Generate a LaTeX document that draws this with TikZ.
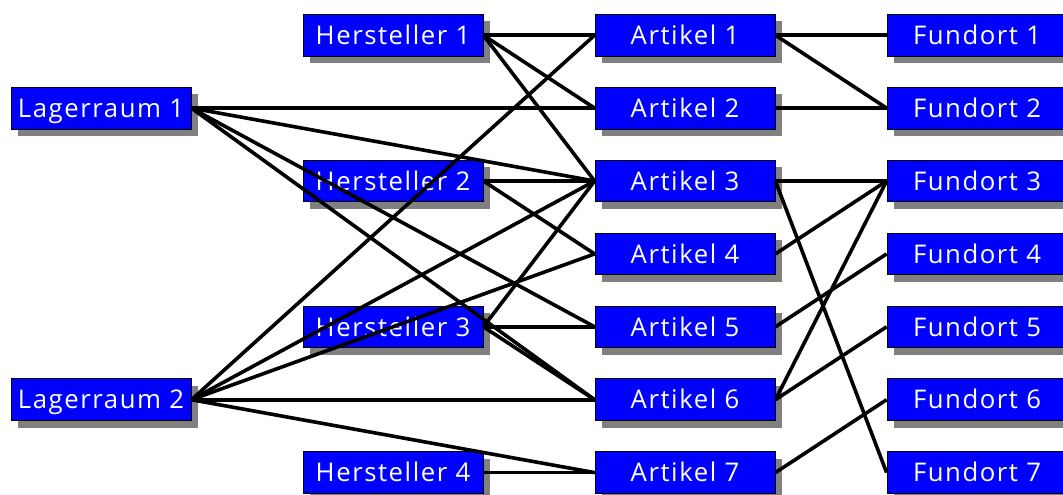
\documentclass[tikz,border=0pt]{standalone}
\usepackage{fontspec}
\setmainfont{Open Sans}[LetterSpace=6]
\usetikzlibrary{shadows}
\definecolor{boxblue}{RGB}{0,0,255}
\definecolor{shadowgray}{RGB}{128,128,128}
\tikzset{
  item/.style={draw=black, line width=0.6pt, fill=boxblue, text=white,
    minimum width=135pt, minimum height=31.3pt, inner sep=0pt,
    text height=13.8pt, text depth=0pt,
    font=\fontsize{19.3pt}{21pt}\selectfont,
    drop shadow={shadow xshift=5.25pt, shadow yshift=-5.25pt,
      fill=shadowgray, opacity=1}},
  link/.style={line width=2.7pt, draw=black}
}
\begin{document}
\begin{tikzpicture}[x=0.75pt,y=-0.75pt]
\clip (0,0) rectangle (1063,494);
% columns: storage rooms, manufacturers, articles, locations
\def\ca{101}\def\cb{393}\def\cc{685}\def\cd{977}
% storage rooms
\node[item] (L1) at (\ca,108.1) {Lagerraum 1};
\node[item] (L2) at (\ca,399.7) {Lagerraum 2};
% manufacturers
\node[item] (H1) at (\cb,35.2) {Hersteller 1};
\node[item] (H2) at (\cb,181) {Hersteller 2};
\node[item] (H3) at (\cb,326.8) {Hersteller 3};
\node[item] (H4) at (\cb,472.6) {Hersteller 4};
% articles and locations
\foreach \i/\y in {1/35.2,2/108.1,3/181,4/253.9,5/326.8,6/399.7,7/472.6}{
  \node[item] (A\i) at (\cc,\y) {Artikel \i};
  \node[item] (F\i) at (\cd,\y) {Fundort \i};
}
% connections
\foreach \s/\t in {L1/A2,L1/A3,L1/A5,L1/A6,
                   L2/A1,L2/A3,L2/A4,L2/A6,L2/A7,
                   H1/A1,H1/A2,H1/A3,
                   H2/A3,H2/A4,
                   H3/A3,H3/A5,H3/A6,
                   H4/A7,
                   A1/F1,A1/F2,A2/F2,A3/F3,A3/F7,A4/F3,
                   A5/F4,A6/F3,A6/F5,A7/F6}{
  \draw[link] (\s.east) -- (\t.west);
}
\end{tikzpicture}
\end{document}
